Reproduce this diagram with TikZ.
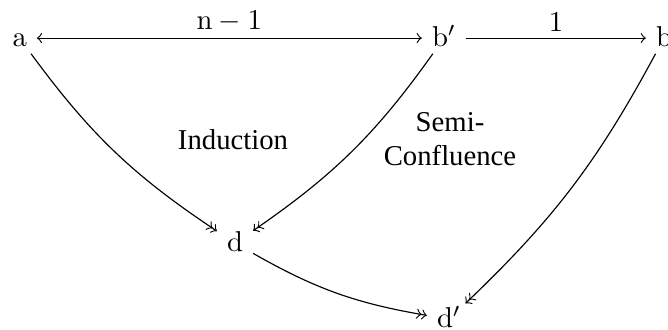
\documentclass[tikz,border=0pt]{standalone}
\usepackage[no-math]{fontspec}
\setmainfont{Liberation Serif}

\begin{document}
\begin{tikzpicture}[x=0.01224cm, y=-0.01224cm, >=to,
  obj/.style={anchor=base, text height=1.6ex, text depth=0.25ex, inner xsep=3.33pt, inner ysep=1pt},
  lbl/.style={above, inner sep=2pt}]
  \useasboundingbox (0,0) rectangle (668,330);
  % Objects
  \node[obj] (a)  at (19.5,47) {$\mathrm{a}$};
  \node[obj] (bp) at (444,47)  {$\mathrm{b}'$};
  \node[obj] (b)  at (664,47)  {$\mathrm{b}$};
  \node[obj] (d)  at (235,252) {$\mathrm{d}$};
  \node[obj] (dp) at (449,328) {$\mathrm{d}'$};
  % Region labels
  \node[anchor=base] (ind) at (233,150) {Induction};
  \node[align=center] (semi) at (450,139) {Semi-\\Confluence};
  % Top row
  \draw[<->] (a) -- node[lbl] {$\mathrm{n}-1$} (bp);
  \draw[->] (bp) -- node[lbl] {$1$} (b);
  % Reductions to the joins
  \draw[->>] (a) to[bend right=10] (d);
  \draw[->>] (bp) to[bend left=10] (d);
  \draw[->>] (b) to[bend left=9] (dp);
  \draw[->>] (d) to[bend right=10] (dp);
\end{tikzpicture}
\end{document}
